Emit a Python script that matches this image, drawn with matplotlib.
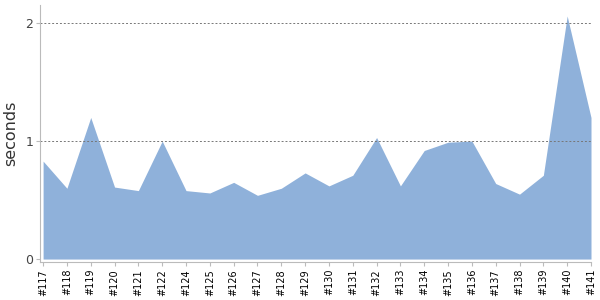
import numpy as np
import matplotlib
matplotlib.use("Agg")
import matplotlib.pyplot as plt

# Builds and their durations [s]
builds = ["#117", "#118", "#119", "#120", "#121", "#122", "#124", "#125", "#126",
          "#127", "#128", "#129", "#130", "#131", "#132", "#133", "#134", "#135",
          "#136", "#137", "#138", "#139", "#140", "#141"]
seconds = [0.83, 0.60, 1.20, 0.61, 0.58, 1.00, 0.58, 0.56, 0.65,
           0.54, 0.60, 0.73, 0.62, 0.71, 1.03, 0.62, 0.92, 0.99,
           1.00, 0.64, 0.55, 0.71, 2.06, 1.20]
y_ticks = [0, 1, 2]

x = np.arange(len(builds))

fig = plt.figure(figsize=(6, 3), dpi=100)
ax = fig.add_axes([40 / 600, 38 / 300, 551 / 600, 257 / 300])

ax.fill_between(x, 0, seconds, color="#8fb1da", linewidth=0)

# grid dotted lines
for v in y_ticks[1:]:
    ax.axhline(v, color="#777777", linestyle=(0, (2, 2)), linewidth=0.7)

ax.set_xlim(-0.13, len(builds) - 1)
ax.set_ylim(-0.025, 2.153)
ax.set_xticks(x)
ax.set_xticklabels(builds, rotation=90, fontsize=7, color="black")
ax.set_yticks(y_ticks)
ax.set_yticklabels([str(v) for v in y_ticks], fontsize=9, color="#444444")
ax.set_ylabel("seconds", fontsize=11.5, color="#333333", labelpad=5)

for s in ["top", "right"]:
    ax.spines[s].set_visible(False)
for s in ["left", "bottom"]:
    ax.spines[s].set_color("#bbbbbb")
ax.tick_params(axis="both", color="#bbbbbb", length=3, pad=2)

fig.savefig("out.png", dpi=100)
